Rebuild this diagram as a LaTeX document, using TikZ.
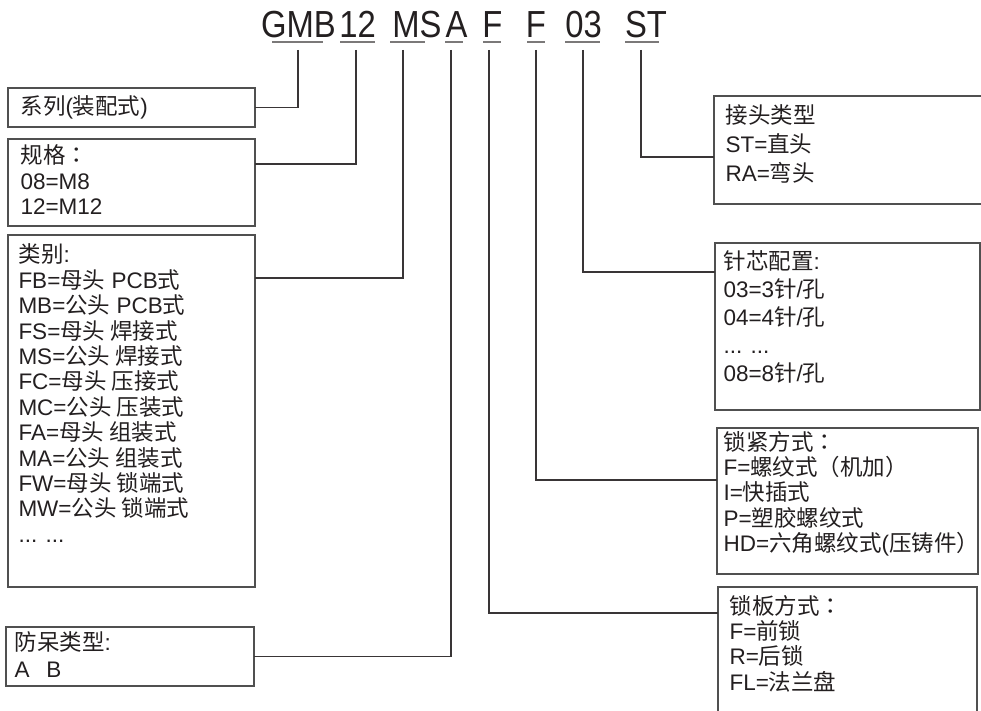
\documentclass[tikz,border=0pt]{standalone}
\usepackage{fontspec}
\usepackage{graphicx}
\setmainfont{Liberation Sans}
\newfontfamily\cjk{Noto Sans CJK SC}
\newfontfamily\cjkpunct{Noto Sans CJK TC}
\newcommand\zh[1]{{\cjk #1}}
\newcommand\zhcolon{{\cjkpunct ：}}
\definecolor{ink}{RGB}{35,31,32}
\definecolor{frame}{RGB}{80,80,80}

\begin{document}
\begin{tikzpicture}[x=1pt,y=-1pt,line width=1pt,
    box/.style={draw=frame, line width=1.4pt, anchor=north west, inner sep=0pt, outer sep=0pt},
    boxtext/.style={anchor=north west, inner sep=0pt, align=left, text=ink, font=\fontsize{22.5}{25.4}\selectfont},
    code/.style={anchor=base, inner sep=0pt, text=ink, font=\fontsize{37.7}{40}\selectfont},
    uline/.style={draw=ink!60, line width=1.5pt},
    link/.style={draw=ink!90, line width=1.2pt}]
  \useasboundingbox (0,0) rectangle (981,711);

  % part number, its underlines and the taps below them
  \foreach \name/\txt/\tx/\ux/\uw/\vx in {gmb/GMB/298.5/297.5/51/298, size/12/357.5/357.5/35/356,
      kind/MS/417/407.5/35/403, key/A/456.5/454/18/451, lockp/F/492.5/492/18/489,
      lockf/F/536/536/18/536, pins/03/583.5/582.5/35/583, head/ST/646/642/34/641}{
    \node[code] (c-\name) at (\tx,38) {\scalebox{.87}[1]{\txt}};
    \draw[uline] (\ux-\uw/2,42) -- ++(\uw,0);
    \coordinate (t-\name) at (\vx,50);
  }

  % left boxes
  \node[box, minimum width=247pt, minimum height=39pt] (series) at (8,88) {};
  \node[box, minimum width=247pt, minimum height=87pt] (size) at (8,139) {};
  \node[box, minimum width=247pt, minimum height=352pt] (kind) at (8,235) {};
  \node[box, minimum width=248pt, minimum height=59pt] (key) at (6,627) {};

  \node[boxtext, anchor=west] at ([xshift=12pt]series.west) {\zh{系列}(\zh{装配式})};
  \node[boxtext] at ([shift={(12,5.5)}]size.north west) {\zh{规格}\zhcolon\\08=M8\\12=M12};
  \node[boxtext] at ([shift={(10,8.5)}]kind.north west) {\zh{类别}:\\FB=\zh{母头} PCB\zh{式}\\MB=\zh{公头} PCB\zh{式}\\
    FS=\zh{母头 焊接式}\\MS=\zh{公头 焊接式}\\FC=\zh{母头 压接式}\\MC=\zh{公头 压装式}\\
    FA=\zh{母头 组装式}\\MA=\zh{公头 组装式}\\FW=\zh{母头 锁端式}\\MW=\zh{公头 锁端式}\\... ...};
  \node[boxtext, font=\fontsize{22.5}{27}\selectfont] at ([shift={(8,4)}]key.north west) {\zh{防呆类型}:\\A\hspace{17pt}B};

  % right boxes
  \node[box, minimum width=280pt, minimum height=108pt] (head) at (714,96) {};
  \node[box, minimum width=265pt, minimum height=167pt] (pins) at (715,243) {};
  \node[box, minimum width=261pt, minimum height=146pt] (lockf) at (717,428) {};
  \node[box, minimum width=259pt, minimum height=140pt] (lockp) at (718,587) {};

  \node[boxtext, font=\fontsize{22.5}{29}\selectfont] at ([shift={(11,8.5)}]head.north west) {\zh{接头类型}\\ST=\zh{直头}\\RA=\zh{弯头}};
  \node[boxtext, font=\fontsize{22.5}{28}\selectfont] at ([shift={(8,7)}]pins.north west) {\zh{针芯配置}:\\03=3\zh{针}/\zh{孔}\\04=4\zh{针}/\zh{孔}\\... ...\\08=8\zh{针}/\zh{孔}};
  \node[boxtext] at ([shift={(6,2.5)}]lockf.north west) {\zh{锁紧方式}\zhcolon\\F=\zh{螺纹式（机加）}\\I=\zh{快插式}\\P=\zh{塑胶螺纹式}\\HD=\zh{六角螺纹式}(\zh{压铸件）}};
  \node[boxtext] at ([shift={(11,7.5)}]lockp.north west) {\zh{锁板方式}\zhcolon\\F=\zh{前锁}\\R=\zh{后锁}\\FL=\zh{法兰盘}};

  % connectors
  \draw[link] (t-gmb) |- (series.east);
  \draw[link] (t-size) |- ([shift={(0,25)}]size.north east);
  \draw[link] (t-kind) |- ([shift={(0,43)}]kind.north east);
  \draw[link] (t-key) |- (key.east);
  \draw[link] (t-head) |- ([shift={(0,61)}]head.north west);
  \draw[link] (t-pins) |- ([shift={(0,29)}]pins.north west);
  \draw[link] (t-lockf) |- ([shift={(0,52)}]lockf.north west);
  \draw[link] (t-lockp) |- ([shift={(0,26)}]lockp.north west);
\end{tikzpicture}
\end{document}
